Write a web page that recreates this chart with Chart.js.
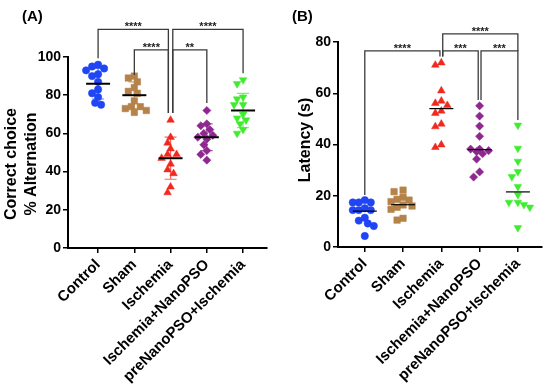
<!DOCTYPE html>
<html>
<head>
<meta charset="utf-8">
<script src="https://cdn.jsdelivr.net/npm/chart.js@4.4.0/dist/chart.umd.min.js"></script>
<style>
  html, body { margin: 0; padding: 0; background: #fff; }
  #wrap { position: relative; width: 550px; height: 388px; overflow: hidden; }
  canvas { position: absolute; top: 0; }
  #cA { left: 0; }
  #cB { left: 270px; }
</style>
</head>
<body>
<div id="wrap">
  <canvas id="cA" width="275" height="388"></canvas>
  <canvas id="cB" width="280" height="388"></canvas>
</div>
<script>
// ---------- Data ----------
const groups = ["Control", "Sham", "Ischemia", "Ischemia+NanoPSO", "preNanoPSO+Ischemia"];

// (A) Correct choice % alternation
const altControl = [96, 95, 94, 93, 91, 90, 87, 83, 81, 79, 76, 75];
const altSham = [90, 89, 87, 84, 82, 81, 77, 74, 74, 73, 72, 71];
const altIschemia = [67, 58, 55, 52, 49, 49, 47, 44, 41, 39, 32, 29];
const altNano = [72, 65, 64, 62, 60, 59, 58, 57, 54, 51, 49, 46];
const altPre = [88, 86, 79, 78, 75, 75, 70, 68, 67, 65, 62, 60];
const altMean = [86, 80, 47, 58, 72];
const altSD = [8, 7, 11, 7, 9];
const altTicks = [0, 20, 40, 60, 80, 100];

// (B) Latency (s)
const latControl = [18.3, 17.4, 17.4, 17.4, 15.1, 14.4, 14.4, 14.4, 11.4, 10.3, 9.2, 8.2, 4.3];
const latSham = [22.2, 21.6, 19.4, 18.6, 18.3, 17.7, 16.4, 16, 15.5, 14.7, 11.2, 10.5];
const latIschemia = [71.9, 71, 61, 57, 56.1, 55.3, 53.1, 52.2, 48, 47, 39.9, 38.9];
const latNano = [55.1, 51.1, 47.2, 43.2, 38.2, 38.2, 37.6, 37.2, 36.4, 34.3, 29.3, 27.3];
const latPre = [47.5, 38.5, 33.4, 29.4, 27.4, 23.5, 20.4, 17.4, 17.4, 16.5, 15.5, 7.5];
const latMedian = [14, 16.5, 54, 38, 21.5];
const latTicks = [0, 20, 40, 60, 80];

// ---------- Look ----------
const FONT = "'Liberation Sans', Arial, Helvetica, sans-serif";
const COLORS = ["#1f45f5", "#b5834a", "#f0281e", "#8e278f", "#3fec2e"];
const MARKERS = [
  { pointStyle: "circle", radius: 3.7, rotation: 0 },
  { pointStyle: "rect", radius: 4.6, rotation: 0 },
  { pointStyle: "triangle", radius: 4.4, rotation: 0 },
  { pointStyle: "rectRot", radius: 4.1, rotation: 0 },
  { pointStyle: "triangle", radius: 4.4, rotation: 180 },
];
const withAlpha = (hex, a) => {
  const h = hex.replace("#", "");
  return `rgba(${parseInt(h.slice(0, 2), 16)}, ${parseInt(h.slice(2, 4), 16)}, ${parseInt(h.slice(4, 6), 16)}, ${a})`;
};

// spread points sideways so they don't overlap (column scatter)
const OFFS = [0, -3, 3, -6, 6, -9, 9, -12, 12];
function swarm(values, center, pxX, pxY, d) {
  const placed = [];
  return values.map((v) => {
    const py = v * pxY;
    // pick the nearest-to-centre free slot, else the least crowded one
    let off = 0, bestGap = -1;
    for (const o of OFFS) {
      const gap = Math.min(Infinity, ...placed.map((p) => Math.hypot(p.x - o, p.y - py)));
      if (gap >= d) { off = o; bestGap = Infinity; break; }
      if (gap > bestGap) { bestGap = gap; off = o; }
    }
    placed.push({ x: off, y: py });
    return { x: center + off / pxX, y: v };
  });
}

// ---------- Overlay: error bars, centre lines, brackets, titles ----------
const overlay = {
  id: "overlay",
  beforeDatasetsDraw(chart, args, o) {
    if (!o.err) return;
    const { ctx, scales: { x, y } } = chart;
    ctx.save();
    ctx.lineWidth = 1.2;
    o.center.forEach((m, i) => {
      const cx = x.getPixelForValue(i);
      const t = y.getPixelForValue(m + o.err[i]);
      const b = y.getPixelForValue(m - o.err[i]);
      ctx.strokeStyle = withAlpha(COLORS[i], 0.7);
      ctx.beginPath();
      ctx.moveTo(cx, t); ctx.lineTo(cx, b);
      ctx.moveTo(cx - 6, t); ctx.lineTo(cx + 6, t);
      ctx.moveTo(cx - 6, b); ctx.lineTo(cx + 6, b);
      ctx.stroke();
    });
    ctx.restore();
  },
  afterDatasetsDraw(chart, args, o) {
    const { ctx, scales: { x, y } } = chart;
    ctx.save();
    ctx.strokeStyle = "#000";
    ctx.lineWidth = o.lineW;
    o.center.forEach((m, i) => {
      const cx = x.getPixelForValue(i);
      const py = y.getPixelForValue(m);
      ctx.beginPath();
      ctx.moveTo(cx - o.half, py); ctx.lineTo(cx + o.half, py);
      ctx.stroke();
    });

    ctx.strokeStyle = "#3a3a3a";
    ctx.lineWidth = 1.3;
    ctx.fillStyle = "#222";
    ctx.font = `bold 11px ${FONT}`;
    ctx.textAlign = "center";
    ctx.textBaseline = "alphabetic";
    o.brackets.forEach((b) => {
      const xa = x.getPixelForValue(b.a) + (b.da || 0);
      const xb = x.getPixelForValue(b.b) + (b.db || 0);
      const yt = y.getPixelForValue(b.y);
      ctx.beginPath();
      ctx.moveTo(xa, y.getPixelForValue(b.ya));
      ctx.lineTo(xa, yt);
      ctx.lineTo(xb, yt);
      ctx.lineTo(xb, y.getPixelForValue(b.yb));
      ctx.stroke();
      ctx.fillText(b.s, (xa + xb) / 2, yt + 1);
    });

    // panel letter
    ctx.fillStyle = "#000";
    ctx.font = `bold 15px ${FONT}`;
    ctx.textAlign = "left";
    ctx.textBaseline = "middle";
    ctx.fillText(o.letter, 22, 17);

    // y-axis title (rotated)
    ctx.font = `bold 16px ${FONT}`;
    ctx.textAlign = "center";
    o.title.forEach((t, k) => {
      ctx.save();
      ctx.translate(o.titleX[k], o.titleY);
      ctx.rotate(-Math.PI / 2);
      ctx.fillText(t, 0, 0);
      ctx.restore();
    });
    ctx.restore();
  },
};

function makePanel(id, p) {
  const plotW = p.width - p.left - p.right;
  const plotH = 388 - p.top - p.xAxisH;
  const pxX = plotW / (p.xmax - p.xmin);
  const pxY = plotH / p.ymax;

  const datasets = p.series.map((vals, i) => ({
    data: swarm(vals, i, pxX, pxY, 6.2),
    pointStyle: MARKERS[i].pointStyle,
    pointRadius: MARKERS[i].radius,
    pointRotation: MARKERS[i].rotation,
    backgroundColor: COLORS[i],
    borderColor: COLORS[i],
    borderWidth: 0.5,
    showLine: false,
  }));

  const tickFont = { family: FONT, size: 14, weight: "bold" };
  return new Chart(document.getElementById(id), {
    type: "scatter",
    data: { datasets },
    plugins: [overlay],
    options: {
      responsive: false,
      animation: false,
      events: [],
      layout: { padding: { top: p.top, right: p.right, left: 0, bottom: 0 } },
      plugins: {
        legend: { display: false },
        tooltip: { enabled: false },
        overlay: {
          center: p.center, err: p.err, lineW: p.lineW, half: p.half, brackets: p.brackets,
          letter: p.letter, title: p.title, titleX: p.titleX, titleY: p.titleY,
        },
      },
      scales: {
        x: {
          type: "linear",
          min: p.xmin,
          max: p.xmax,
          afterBuildTicks: (s) => { s.ticks = groups.map((_, i) => ({ value: i })); },
          afterFit: (s) => { s.height = p.xAxisH; },
          ticks: {
            autoSkip: false,
            minRotation: 45,
            maxRotation: 45,
            padding: 3,
            color: "#000",
            font: { family: FONT, size: 15, weight: "bold" },
            callback: (v) => groups[v],
          },
          grid: { drawOnChartArea: false, drawTicks: true, tickLength: 5, color: "#000", lineWidth: 1.5 },
          border: { display: true, color: "#000", width: 2 },
        },
        y: {
          min: 0,
          max: p.ymax,
          afterBuildTicks: (s) => { s.ticks = p.yticks.map((v) => ({ value: v })); },
          afterFit: (s) => { s.width = p.left; },
          ticks: { padding: 2, color: "#000", font: tickFont },
          grid: { drawOnChartArea: false, drawTicks: true, tickLength: 5, color: "#000", lineWidth: 1.5 },
          border: { display: true, color: "#000", width: 2 },
        },
      },
    },
  });
}

// Panel A: mean ± SD
makePanel("cA", {
  width: 275, left: 68, right: 8, top: 57, xAxisH: 140,
  xmin: -0.83, xmax: 4.66, ymax: 100, yticks: altTicks,
  series: [altControl, altSham, altIschemia, altNano, altPre],
  center: altMean, err: altSD, lineW: 2, half: 12,
  title: ["Correct choice", "% Alternation"], titleX: [12, 32], titleY: 164,
  letter: "(A)",
  brackets: [
    { a: 0, b: 2, db: -2.2, y: 114.5, ya: 99.3, yb: 70.7, s: "****" },
    { a: 1, b: 2, db: -2.2, y: 103.7, ya: 90.6, yb: 70.7, s: "****" },
    { a: 2, b: 3, da: 2.2, y: 103.7, ya: 70.7, yb: 75.9, s: "**" },
    { a: 2, b: 4, da: 2.2, y: 114.5, ya: 70.7, yb: 91.5, s: "****" },
  ],
});

// Panel B: median
makePanel("cB", {
  width: 280, left: 68, right: 8, top: 42, xAxisH: 141,
  xmin: -0.7, xmax: 4.63, ymax: 80, yticks: latTicks,
  series: [latControl, latSham, latIschemia, latNano, latPre],
  center: latMedian, err: null, lineW: 1.2, half: 12,
  title: ["Latency (s)"], titleX: [36], titleY: 140,
  letter: "(B)",
  brackets: [
    { a: 0, b: 2, db: -1.4, y: 76.5, ya: 20.3, yb: 74.3, s: "****" },
    { a: 2, b: 3, da: 1.4, db: -1.4, y: 76.5, ya: 74.3, yb: 57.4, s: "***" },
    { a: 3, b: 4, da: 1.4, y: 76.5, ya: 57.4, yb: 49.6, s: "***" },
    { a: 2, b: 4, da: 1.4, y: 83.2, ya: 74.3, yb: 76.5, s: "****" },
  ],
});
</script>
</body>
</html>
